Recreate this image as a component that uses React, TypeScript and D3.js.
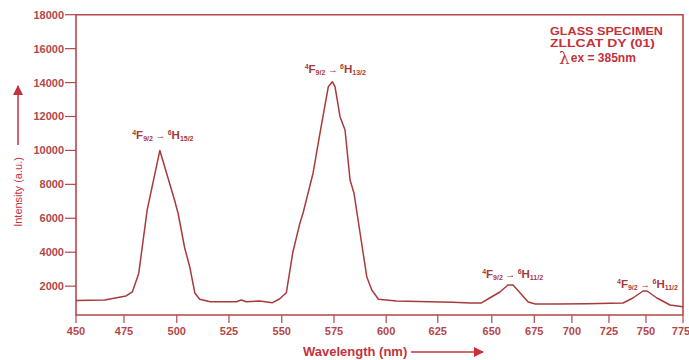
import React from "react";
import * as d3 from "d3";

// ---- data ----
const WAVELENGTH = [
  450, 465, 476, 479, 482, 486, 492, 499, 500.6, 503.8, 506.2, 508.7, 511, 516,
  528.5, 530.8, 533.2, 539.5, 545.6, 548.9, 552.2, 555.3, 558.7, 560.2, 565,
  568.3, 572.3, 574.2, 575.5, 577.9, 580.3, 582.7, 584.6, 587.5, 590.7, 593.1,
  596.3, 605, 621, 632, 640, 645, 649, 654.8, 659.5, 662.5, 666.7, 671.4, 675.7,
  690, 710, 734.5, 741.2, 748, 750.7, 757.4, 766.2, 775,
];
const INTENSITY = [
  1150, 1180, 1420, 1670, 2750, 6500, 10000, 7050, 6312, 4249, 3147, 1579, 1225,
  1084, 1084, 1184, 1084, 1125, 1025, 1243, 1614, 4000, 5723, 6312, 8670, 11027,
  13756, 14051, 13756, 11988, 11204, 8257, 7473, 5133, 2557, 1774, 1225, 1130,
  1084, 1050, 1000, 1000, 1302, 1656, 2068, 2068, 1597, 1066, 948, 950, 960,
  1007, 1302, 1715, 1715, 1302, 889, 789,
];
const X_TICKS = [450, 475, 500, 525, 550, 575, 600, 625, 650, 675, 700, 725, 750, 775];
const Y_TICKS = [2000, 4000, 6000, 8000, 10000, 12000, 14000, 16000, 18000];
const PEAKS = [
  { wl: 492, v: 10000, upper: "15/2" },
  { wl: 574.2, v: 14051, upper: "13/2" },
  { wl: 660.5, v: 2068, upper: "11/2" },
  { wl: 749, v: 1715, upper: "11/2" },
];
const LEGEND_LINES = ["GLASS SPECIMEN", "ZLLCAT DY (01)"];

// nonlinear axis: relative position of each x tick along the axis
const X_TICK_FRAC = [0, 0.079, 0.166, 0.252, 0.339, 0.425, 0.511, 0.596, 0.685, 0.755, 0.817, 0.878, 0.939, 1];

const W = 689;
const H = 360;
const M = { left: 76, right: 683, top: 14.7, bottom: 315 };
const AXIS = "#b4474a";
const LINE = "#a83a3c";
const LEGEND = "#c4323b";
const FONT = "'Liberation Sans', Arial, sans-serif";

export default function App() {
  const x = d3
    .scaleLinear()
    .domain(X_TICKS)
    .range(X_TICK_FRAC.map((f) => M.left + f * (M.right - M.left)));
  const y = d3.scaleLinear().domain([300, 18000]).range([M.bottom, M.top]);
  const pts = WAVELENGTH.map((w, i) => [w, INTENSITY[i]] as [number, number]);
  const line = d3
    .line<[number, number]>()
    .x((d) => x(d[0]))
    .y((d) => y(d[1]))
    .curve(d3.curveLinear);

  const peakOffsets = [-11, -9, -7, -3];
  const legendWidths = [113, 105];

  return (
    <svg
      width={W}
      height={H}
      style={{ position: "absolute", left: 0, top: 0, background: "#fff" }}
      fontFamily={FONT}
    >
      <defs>
        <marker id="arr" viewBox="0 0 10 10" refX="9" refY="5" markerWidth="7" markerHeight="7" orient="auto">
          <path d="M0,0 L10,5 L0,10 z" fill={LEGEND} />
        </marker>
      </defs>
      {/* frame */}
      <path
        d={`M${M.left},${M.top} L${M.right},${M.top} L${M.right},${M.bottom} L${M.left},${M.bottom} Z`}
        fill="none"
        stroke={AXIS}
        strokeWidth={1.6}
      />
      {/* y ticks */}
      {Y_TICKS.map((t) => (
        <g key={t}>
          <line x1={M.left - 11} x2={M.left} y1={y(t)} y2={y(t)} stroke={AXIS} strokeWidth={1.2} />
          <text x={M.left - 12} y={y(t) + 4} textAnchor="end" fontSize={11} fontWeight="bold" fill={AXIS}>
            {t}
          </text>
        </g>
      ))}
      {/* x ticks */}
      {X_TICKS.map((t, i) => (
        <g key={t}>
          <line x1={x(t)} x2={x(t)} y1={M.bottom} y2={M.bottom + 8} stroke={AXIS} strokeWidth={1.2} />
          <text
            x={i === X_TICKS.length - 1 ? x(t) - 2 : x(t)}
            y={M.bottom + 20}
            textAnchor="middle"
            fontSize={11}
            fontWeight="bold"
            fill={AXIS}
          >
            {t}
          </text>
        </g>
      ))}
      {/* curve */}
      <path d={line(pts) || ""} fill="none" stroke={LINE} strokeWidth={1.5} strokeLinejoin="round" />
      {/* peak labels */}
      {PEAKS.map((p, i) => (
        <text
          key={i}
          x={x(p.wl) + 3}
          y={y(p.v) + peakOffsets[i]}
          textAnchor="middle"
          fontWeight="bold"
          fill={LINE}
        >
          <tspan fontSize={7} dy={-4}>4</tspan>
          <tspan fontSize={11.5} dy={4}>F</tspan>
          <tspan fontSize={7} dy={2}>9/2</tspan>
          <tspan fontSize={9.5} dy={-2}>{" \u2192 "}</tspan>
          <tspan fontSize={7} dy={-4}>6</tspan>
          <tspan fontSize={11.5} dy={4}>H</tspan>
          <tspan fontSize={7} dy={2}>{p.upper}</tspan>
        </text>
      ))}
      {/* legend */}
      {LEGEND_LINES.map((s, i) => (
        <text
          key={s}
          x={550}
          y={35 + i * 11.5}
          fontSize={10.5}
          fontWeight="bold"
          fill={LEGEND}
          textLength={legendWidths[i]}
          lengthAdjust="spacingAndGlyphs"
        >
          {s}
        </text>
      ))}
      <text x={559} y={64} fill={LEGEND}>
        <tspan fontSize={17} fontFamily="'DejaVu Serif', serif">λ</tspan>
        <tspan fontSize={12} fontWeight="bold" dx={1} dy={-2}>ex = 385nm</tspan>
      </text>
      {/* axis titles */}
      <text
        transform={`translate(22,${192}) rotate(-90)`}
        textAnchor="middle"
        fontSize={11}
        fill={LEGEND}
      >
        Intensity (a.u.)
      </text>
      <line x1={18} x2={18} y1={145} y2={86} stroke={LEGEND} strokeWidth={1.5} markerEnd="url(#arr)" />
      <text x={303} y={356} fontSize={13} fontWeight="bold" fill={LEGEND}>
        Wavelength (nm)
      </text>
      <line x1={411} x2={483} y1={352} y2={352} stroke={LEGEND} strokeWidth={1.5} markerEnd="url(#arr)" />
    </svg>
  );
}
